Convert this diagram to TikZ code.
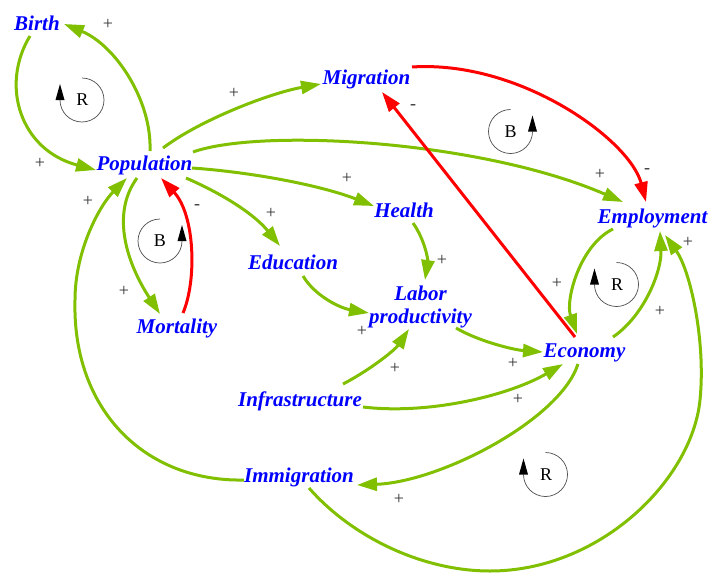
\documentclass[tikz,border=0pt]{standalone}
\usepackage{fontspec}
\setmainfont{Liberation Serif}
\usetikzlibrary{arrows.meta}
\definecolor{lgreen}{RGB}{128,192,0}
\definecolor{lred}{RGB}{255,0,0}
\definecolor{lblue}{RGB}{0,0,255}
\tikzset{
  loopline/.style={draw=black!70, line width=0.7pt},
  loopcw/.pic={
    \draw[loopline,x=1pt,y=1pt] (0,22) arc[start angle=90,end angle=-180,radius=22];
    \fill[black,x=1pt,y=1pt] (-26.5,0) -- (-17.5,0) -- (-22,16) -- cycle;
  },
  loopccw/.pic={
    \draw[loopline,x=1pt,y=1pt] (0,22) arc[start angle=90,end angle=360,radius=22];
    \fill[black,x=1pt,y=1pt] (17.5,0) -- (26.5,0) -- (22,16) -- cycle;
  }
}
\begin{document}
\begin{tikzpicture}[x=1pt,y=-1pt,
  var/.style={text=lblue, font=\fontsize{21}{23}\selectfont\bfseries\itshape, inner sep=0pt},
  sgn/.style={font=\fontsize{18}{18}\selectfont, inner sep=0pt, text=black!80},
  lp/.style={font=\fontsize{18}{18}\selectfont, inner sep=0pt},
  posarr/.style={draw=lgreen, line width=3pt, -{Triangle[length=20pt,width=13pt]}},
  negarr/.style={draw=lred, line width=3pt, -{Triangle[length=20pt,width=13pt]}}
]
\useasboundingbox (0,0) rectangle (710,573);

% variables
\node[var,anchor=base] (birth) at (37,30) {Birth};
\node[var,anchor=base] (pop) at (144.5,170) {Population};
\node[var,anchor=base] (mig) at (366.5,84) {Migration};
\node[var,anchor=base] (health) at (404,217) {Health};
\node[var,anchor=base] (emp) at (652.5,223) {Employment};
\node[var,anchor=base] (edu) at (293,269) {Education};
\node[var,anchor=base] (mort) at (177,333) {Mortality};
\node[var,align=center] (labor) at (420.5,306.6) {Labor\\productivity};
\node[var,anchor=base] (econ) at (584.5,357) {Economy};
\node[var,anchor=base] (infra) at (300,406) {Infrastructure};
\node[var,anchor=base] (imm) at (299,482) {Immigration};

% connectors
\draw[posarr] ([shift={(5.5,-19)}]pop.base) .. controls (152,100) and (115,45) .. ([shift={(27,-6)}]birth.base);
\draw[posarr] ([shift={(-7,6)}]birth.base) .. controls (0,85) and (20,150) .. ([shift={(-48.5,0)}]pop.base);
\draw[posarr] ([shift={(18.5,-22)}]pop.base) .. controls (200,120) and (270,93) .. ([shift={(-45.5,0)}]mig.base);
\draw[posarr] ([shift={(48.5,-18)}]pop.base) .. controls (260,128) and (480,140) .. ([shift={(-29.5,-21)}]emp.base);
\draw[posarr] ([shift={(47.5,-2)}]pop.base) .. controls (250,172) and (320,185) .. ([shift={(-30,-11)}]health.base);
\draw[posarr] ([shift={(41.5,8)}]pop.base) .. controls (225,195) and (255,215) .. ([shift={(-13,-23)}]edu.base);
\draw[posarr] ([shift={(-7.5,8)}]pop.base) .. controls (110,215) and (128,265) .. ([shift={(-17,-19)}]mort.base);
\draw[negarr] ([shift={(6,-20)}]mort.base) .. controls (197,280) and (195,215) .. ([shift={(16.5,8)}]pop.base);
\draw[posarr] ([shift={(-55,-2)}]imm.base) .. controls (145,482) and (72,410) .. (75,300) .. controls (75,250) and (100,205) .. ([shift={(-17.5,8)}]pop.base);
\draw[posarr] ([shift={(9,6)}]health.base) .. controls (425,240) and (428,260) .. ([shift={(4.5,-26.6)}]labor.center);
\draw[posarr] ([shift={(10,7)}]edu.base) .. controls (315,296) and (340,308) .. ([shift={(-51.5,6.4)}]labor.center);
\draw[posarr] ([shift={(43,-22)}]infra.base) .. controls (370,370) and (395,350) .. ([shift={(-11.5,22.4)}]labor.center);
\draw[posarr] ([shift={(35.5,21.4)}]labor.center) .. controls (480,342) and (515,350) .. ([shift={(-41.5,-5)}]econ.base);
\draw[posarr] ([shift={(63,1)}]infra.base) .. controls (430,415) and (510,395) .. ([shift={(-21.5,7)}]econ.base);
\draw[posarr] ([shift={(-6.5,7)}]econ.base) .. controls (560,420) and (440,482) .. ([shift={(58,3)}]imm.base);
\draw[negarr] ([shift={(-9.5,-20)}]econ.base) -- ([shift={(15.5,8)}]mig.base);
\draw[negarr] ([shift={(45.5,-17)}]mig.base) .. controls (520,60) and (630,140) .. ([shift={(-6.5,-21)}]emp.base);
\draw[posarr] ([shift={(-39.5,6)}]emp.base) .. controls (580,245) and (565,300) .. ([shift={(-7.5,-23)}]econ.base);
\draw[posarr] ([shift={(28.5,-20)}]econ.base) .. controls (645,315) and (662,270) .. ([shift={(7.5,8)}]emp.base);
\draw[posarr] ([shift={(10,6)}]imm.base) .. controls (350,535) and (420,571) .. (490,571) .. controls (600,571) and (692,480) .. (700,400) .. controls (706,340) and (690,270) .. ([shift={(12.5,12)}]emp.base);

% polarity signs
\node[sgn] (s1) at (108,24) {+};
\node[sgn] (s2) at (40,163) {+};
\node[sgn] (s3) at (234,93) {+};
\node[sgn] (s4) at (600,174) {+};
\node[sgn] (s5) at (647,171) {-};
\node[sgn] (s6) at (347,178) {+};
\node[sgn] (s7) at (88,201) {+};
\node[sgn] (s8) at (197,207) {-};
\node[sgn] (s9) at (271,213) {+};
\node[sgn] (s10) at (442,260) {+};
\node[sgn] (s11) at (557,283) {+};
\node[sgn] (s12) at (688,242) {+};
\node[sgn] (s13) at (124,291) {+};
\node[sgn] (s14) at (660,311) {+};
\node[sgn] (s15) at (362,331) {+};
\node[sgn] (s16) at (395,368) {+};
\node[sgn] (s17) at (513,363) {+};
\node[sgn] (s18) at (518,399) {+};
\node[sgn] (s19) at (399,499) {+};
\node[sgn] (s20) at (413,107) {-};

% loop markers
\pic at (82,100) {loopcw};
\node[lp] (l1) at (82.5,100) {R};
\pic at (160,241) {loopccw};
\node[lp] (l2) at (160,241) {B};
\pic at (510.5,131.5) {loopccw};
\node[lp] (l3) at (510.5,131.5) {B};
\pic at (616.5,284.5) {loopcw};
\node[lp] (l4) at (617,284.5) {R};
\pic at (545.5,474.5) {loopcw};
\node[lp] (l5) at (546,474.5) {R};
\end{tikzpicture}
\end{document}
